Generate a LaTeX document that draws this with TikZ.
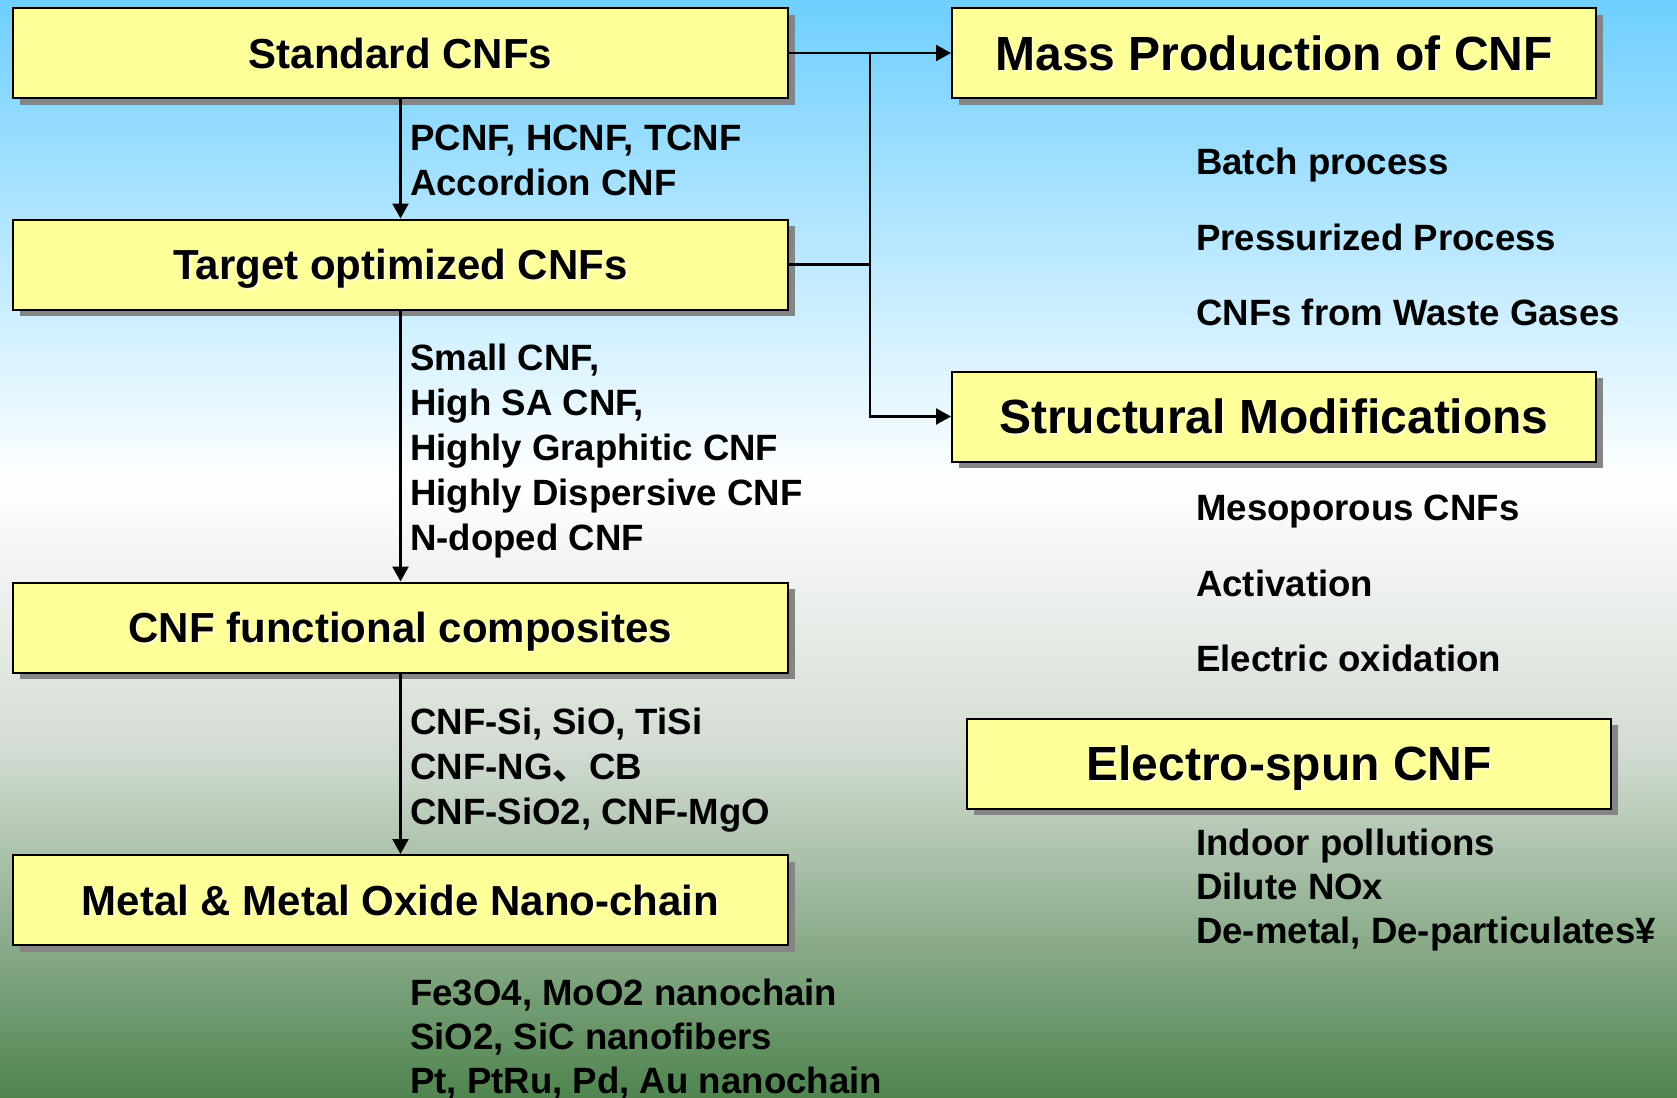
\documentclass[tikz,border=0pt]{standalone}
\usepackage{fontspec}
\setmainfont{Liberation Sans}
\newfontfamily\cjkfont{Noto Sans CJK JP}
\usetikzlibrary{
  arrows.meta,
  calc,
  positioning,
  shadows
}
\definecolor{boxyellow}{HTML}{FFFF99}
\definecolor{skytop}{HTML}{6ECFFF}
\definecolor{paleground}{HTML}{D3DCD3}
\definecolor{grassbottom}{HTML}{4F844F}
\newcommand\glow[1]{\rlap{\hspace{0.9pt}\raisebox{-0.9pt}{\color{white!85!yellow}#1}}#1}
\tikzset{
  >={Triangle[length=7.5pt,width=8pt]},
  every picture/.style={line width=1.2pt},
  box/.style={draw, line width=1pt, fill=boxyellow, inner sep=0pt, text depth=0pt,
    general shadow={fill=black!48, shadow xshift=3.3pt, shadow yshift=-3.3pt}},
  leftbox/.style={box, minimum width=387.5pt, minimum height=45pt, text height=15pt,
    font=\fontsize{21}{25}\selectfont\bfseries},
  rightbox/.style={box, minimum width=322pt, minimum height=45pt, text height=17.2pt,
    font=\fontsize{24}{28}\selectfont\bfseries},
  arrow/.style={->},
  notes/.style={anchor=north west, align=left, inner sep=0pt,
    font=\fontsize{18.3}{22.5}\selectfont\bfseries},
  widenotes/.style={notes, font=\fontsize{18.3}{37.75}\selectfont\bfseries},
  tightnotes/.style={notes, font=\fontsize{18.3}{22}\selectfont\bfseries}
}

\begin{document}
\begin{tikzpicture}[x=0.5pt, y=-0.5pt]
\useasboundingbox (0,0) rectangle (1677,1098);

% background
\shade[top color=skytop, bottom color=white] (0,0) rectangle (1677,481);
\shade[top color=white, bottom color=paleground] (0,480) rectangle (1677,751);
\shade[top color=paleground, bottom color=grassbottom] (0,750) rectangle (1677,1098);

% left column
\node[leftbox] (std) at (400.5,53) {\glow{Standard CNFs}};
\node[leftbox] (tgt) at (400.5,264.5) {\glow{Target optimized CNFs}};
\node[leftbox] (comp) at (400.5,627.5) {\glow{CNF functional composites}};
\node[leftbox] (metal) at (400.5,900) {\glow{Metal \& Metal Oxide Nano-chain}};

% right column
\node[rightbox] (mass) at (1274,53) {\glow{Mass Production of CNF}};
\node[rightbox] (struct) at (1274,416.5) {\glow{Structural Modifications}};
\node[rightbox] (elec) at (1289,763.5) {\glow{Electro-spun CNF}};

% connectors
\draw[arrow] (std.south) -- (tgt.north);
\draw[arrow] (tgt.south) -- (comp.north);
\draw[arrow] (comp.south) -- (metal.north);
\coordinate (split) at ($(std.east)!0.5!(mass.west)$);
\draw[arrow] (std.east) -- (mass.west);
\draw (tgt.east) -- (tgt.east -| split);
\draw[arrow] (split) |- (struct.west);

% lists
\node[notes] (stdnotes) at (409,124) {PCNF, HCNF, TCNF\\Accordion CNF};
\node[notes] (tgtnotes) at (409,343) {Small CNF,\\High SA CNF,\\Highly Graphitic CNF\\Highly Dispersive CNF\\N-doped CNF};
\node[notes] (compnotes) at (409,707) {CNF-Si, SiO, TiSi\\CNF-NG{\cjkfont 、}CB\\CNF-SiO2, CNF-MgO};
\node[tightnotes] (metalnotes) at (409,978) {Fe3O4, MoO2 nanochain\\SiO2, SiC nanofibers\\Pt, PtRu, Pd, Au nanochain};
\node[widenotes] (massnotes) at (1195,147) {Batch process\\Pressurized Process\\CNFs from Waste Gases};
\node[widenotes] (structnotes) at (1195,494) {Mesoporous CNFs\\Activation\\Electric oxidation};
\node[tightnotes] (elecnotes) at (1195,828) {Indoor pollutions\\Dilute NOx\\De-metal, De-particulates¥};

\end{tikzpicture}
\end{document}
